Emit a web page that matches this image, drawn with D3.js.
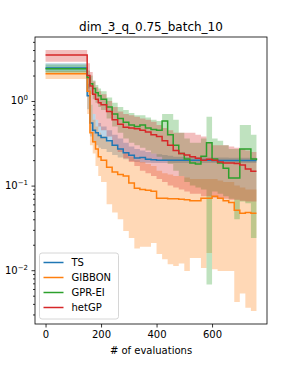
<!DOCTYPE html>
<html><head><meta charset="utf-8">
<script src="https://cdn.jsdelivr.net/npm/d3@7"></script>
<style>
body{margin:0;background:#fff;}
svg{display:block;font-family:"DejaVu Sans",sans-serif;}
</style></head>
<body><svg id="chart"></svg>
<script>
const W=287,H=365;
const title='dim_3_q_0.75_batch_10';
const xLabel='# of evaluations';
const names=['TS','GIBBON','GPR-EI','hetGP'];
const colors=['#1f77b4','#ff7f0e','#2ca02c','#d62728'];
const xTicks=[0,200,400,600];
const yTicks=[1e-2,1e-1,1];
const yTickLabels=[['10','\u22122'],['10','\u22121'],['10','0']];

// number of evaluations at each step
const evals=[0,150,160,170,180,190,200,220,240,260,280,300,320,340,360,380,400,420,440,460,480,500,520,540,560,580,600,620,640,660,680,700,720,740,760];

const tsMean=[2.45,1.15,0.55,0.45,0.42,0.39,0.37,0.34,0.30,0.27,0.245,0.228,0.212,0.215,0.205,0.202,0.2,0.2,0.2,0.2,0.199,0.199,0.199,0.199,0.199,0.199,0.198,0.198,0.198,0.198,0.198,0.198,0.198,0.198,0.198];
const tsLo=[2.2,0.8,0.38,0.32,0.3,0.28,0.27,0.25,0.23,0.215,0.205,0.195,0.19,0.188,0.186,0.185,0.185,0.185,0.185,0.185,0.185,0.185,0.185,0.185,0.185,0.185,0.185,0.185,0.185,0.185,0.185,0.185,0.185,0.185,0.185];
const tsHi=[2.8,1.6,0.9,0.7,0.6,0.55,0.5,0.45,0.4,0.36,0.32,0.29,0.27,0.26,0.25,0.24,0.235,0.23,0.225,0.22,0.22,0.218,0.218,0.216,0.216,0.215,0.215,0.215,0.215,0.214,0.214,0.214,0.214,0.214,0.214];

const gibMean=[2.1,1.3,0.42,0.33,0.27,0.22,0.2,0.165,0.145,0.135,0.13,0.107,0.093,0.09,0.088,0.086,0.071,0.071,0.07,0.07,0.069,0.068,0.066,0.066,0.071,0.071,0.075,0.071,0.066,0.063,0.051,0.047,0.048,0.047,0.047];
const gibLo=[1.82,0.7,0.3,0.24,0.17,0.13,0.11,0.06,0.048,0.04,0.029,0.024,0.018,0.019,0.019,0.021,0.0155,0.0135,0.0118,0.0112,0.012,0.0098,0.0139,0.0139,0.0106,0.016,0.0103,0.0098,0.0098,0.0098,0.0042,0.0053,0.0036,0.0033,0.0036];
const gibHi=[2.26,2.0,0.9,0.6,0.5,0.42,0.38,0.33,0.3,0.27,0.25,0.22,0.2,0.19,0.18,0.17,0.15,0.14,0.135,0.13,0.13,0.125,0.12,0.12,0.12,0.12,0.12,0.115,0.11,0.11,0.1,0.095,0.09,0.09,0.09];

const eiMean=[2.4,1.9,1.6,1.4,1.25,1.15,1.05,0.85,0.7,0.62,0.56,0.52,0.5,0.52,0.48,0.46,0.45,0.58,0.4,0.3,0.24,0.206,0.185,0.18,0.223,0.32,0.206,0.185,0.16,0.123,0.123,0.27,0.27,0.206,0.2];
const eiLo=[2.15,1.4,1.2,1.05,0.95,0.85,0.78,0.62,0.5,0.42,0.36,0.32,0.3,0.28,0.26,0.24,0.22,0.2,0.18,0.15,0.13,0.11,0.1,0.095,0.09,0.0068,0.085,0.08,0.075,0.07,0.04,0.065,0.062,0.024,0.024];
const eiHi=[2.7,2.3,2.0,1.75,1.55,1.4,1.3,1.1,0.95,0.85,0.78,0.72,0.68,0.68,0.64,0.6,0.58,0.7,0.7,0.6,0.42,0.36,0.32,0.32,0.36,0.65,0.36,0.34,0.3,0.27,0.27,0.52,0.52,0.4,0.4];

const hetMean=[3.5,2.0,1.5,1.2,1.05,0.95,0.9,0.75,0.6,0.53,0.49,0.48,0.47,0.45,0.43,0.4,0.38,0.34,0.3,0.26,0.24,0.23,0.22,0.21,0.2,0.205,0.2,0.19,0.185,0.185,0.183,0.175,0.157,0.148,0.148];
const hetLo=[2.9,1.3,0.9,0.7,0.6,0.5,0.45,0.38,0.3,0.25,0.21,0.19,0.17,0.15,0.14,0.13,0.12,0.11,0.1,0.095,0.09,0.085,0.08,0.08,0.075,0.075,0.072,0.07,0.07,0.068,0.068,0.066,0.065,0.065,0.065];
const hetHi=[4.0,2.8,2.2,1.7,1.45,1.3,1.2,1.0,0.85,0.75,0.7,0.68,0.65,0.62,0.6,0.57,0.52,0.48,0.45,0.42,0.42,0.42,0.42,0.4,0.38,0.32,0.3,0.3,0.3,0.29,0.28,0.27,0.26,0.25,0.25];

const series=[[tsMean,tsLo,tsHi],[gibMean,gibLo,gibHi],[eiMean,eiLo,eiHi],[hetMean,hetLo,hetHi]]
  .map((s,i)=>({name:names[i],color:colors[i],pts:evals.map((x,j)=>({x,m:s[0][j],lo:s[1][j],hi:s[2][j]}))}));

const m={l:35,r:267,t:37,b:324};
const svg=d3.select('#chart').attr('width',W).attr('height',H);
svg.append('rect').attr('width',W).attr('height',H).attr('fill','#fff');

// matplotlib-like 5% margins (log margin on y)
const xMin=d3.min(evals),xMax=d3.max(evals),xPad=(xMax-xMin)*0.05;
const x=d3.scaleLinear().domain([xMin-xPad,xMax+xPad]).range([m.l,m.r]);
const lmin=Math.log10(d3.min(series,s=>d3.min(s.pts,p=>p.lo))),lmax=Math.log10(d3.max(series,s=>d3.max(s.pts,p=>p.hi)));
const lp=(lmax-lmin)*0.05;
const y=d3.scaleLog().domain([10**(lmin-lp),10**(lmax+lp)]).range([m.b,m.t]);

const clip=svg.append('clipPath').attr('id','clip').append('rect')
  .attr('x',m.l).attr('y',m.t).attr('width',m.r-m.l).attr('height',m.b-m.t);
const gPlot=svg.append('g').attr('clip-path','url(#clip)');

const area=d3.area().curve(d3.curveStepAfter).x(d=>x(d.x)).y0(d=>y(d.lo)).y1(d=>y(d.hi));
const line=d3.line().curve(d3.curveStepAfter).x(d=>x(d.x)).y(d=>y(d.m));

gPlot.selectAll('path.band').data(series).join('path').attr('class','band')
  .attr('d',d=>area(d.pts)).attr('fill',d=>d.color).attr('fill-opacity',0.3).attr('stroke','none');
gPlot.selectAll('path.mean').data(series).join('path').attr('class','mean')
  .attr('d',d=>line(d.pts)).attr('fill','none').attr('stroke',d=>d.color).attr('stroke-width',1.5);

// axes
const gx=svg.append('g').attr('transform',`translate(0,${m.b})`)
  .call(d3.axisBottom(x).tickValues(xTicks).tickSize(3.5).tickPadding(3.5).tickFormat(d3.format('d')));
const minor=[];
for(let e=-3;e<=0;e++)for(let k=2;k<=9;k++){const v=k*10**e;if(v>=y.domain()[0]&&v<=y.domain()[1])minor.push(v);}
const gyMinor=svg.append('g').attr('transform',`translate(${m.l},0)`)
  .call(d3.axisLeft(y).tickValues(minor).tickSize(2).tickFormat(''));
const gy=svg.append('g').attr('transform',`translate(${m.l},0)`)
  .call(d3.axisLeft(y).tickValues(yTicks).tickSize(3.5).tickFormat(''));
[gx,gy,gyMinor].forEach(g=>{g.select('.domain').remove();g.selectAll('line').attr('stroke','#000').attr('stroke-width',0.8);});
gx.selectAll('text').attr('font-size',10).attr('fill','#000').attr('font-family','DejaVu Sans');

yTicks.forEach((v,i)=>{
  const t=svg.append('text').attr('x',m.l-7).attr('y',y(v)+3.5).attr('text-anchor','end')
    .attr('font-size',10).attr('fill','#000');
  t.append('tspan').text(yTickLabels[i][0]);
  t.append('tspan').attr('dy',-4).attr('font-size',7).text(yTickLabels[i][1]);
});

svg.append('rect').attr('x',m.l).attr('y',m.t).attr('width',m.r-m.l).attr('height',m.b-m.t)
  .attr('fill','none').attr('stroke','#000').attr('stroke-width',0.8);

svg.append('text').attr('x',(m.l+m.r)/2).attr('y',m.t-6).attr('text-anchor','middle')
  .attr('font-size',12).attr('fill','#000').text(title);
svg.append('text').attr('x',(m.l+m.r)/2).attr('y',354).attr('text-anchor','middle')
  .attr('font-size',10).attr('fill','#000').text(xLabel);

// legend
const lg=svg.append('g').attr('transform',`translate(${m.l+4.5},${m.b-71})`);
lg.append('rect').attr('width',79).attr('height',66).attr('rx',2.5)
  .attr('fill','#fff').attr('fill-opacity',0.8).attr('stroke','#ccc').attr('stroke-width',0.8);
series.forEach((s,i)=>{
  const yy=9.5+i*15;
  lg.append('line').attr('x1',4).attr('x2',24).attr('y1',yy).attr('y2',yy).attr('stroke',s.color).attr('stroke-width',1.5);
  lg.append('text').attr('x',32).attr('y',yy+3.6).attr('font-size',10).attr('fill','#000').text(s.name);
});
</script></body></html>
